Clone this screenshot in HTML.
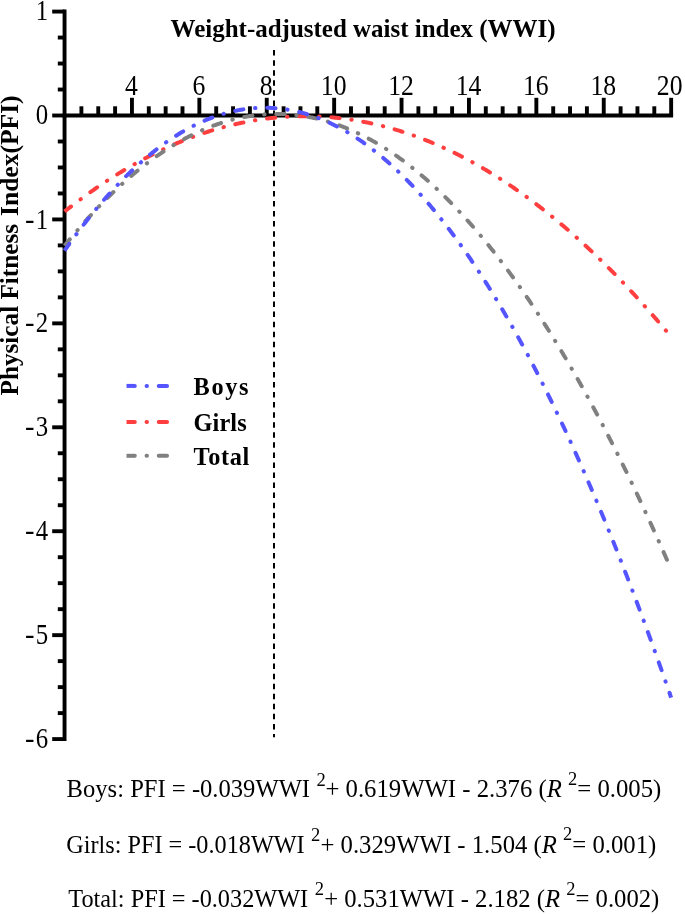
<!DOCTYPE html>
<html><head><meta charset="utf-8"><title>WWI vs PFI</title>
<style>
html,body{margin:0;padding:0;background:#fff}
svg{display:block;will-change:transform}
text{font-family:"Liberation Serif","Times New Roman",serif;fill:#000}
.b{font-weight:bold}
</style></head><body>
<svg width="685" height="914" viewBox="0 0 685 914">
<rect width="685" height="914" fill="#fff"/>

<line x1="274" y1="50.1" x2="274" y2="737.3" stroke="#000" stroke-width="2" stroke-dasharray="5.5 4.557"/>
<g stroke="#000" stroke-width="3.9" fill="none">
<line x1="64.55" y1="9.62" x2="64.55" y2="741.03"/>
<line x1="62.60" y1="115.5" x2="673.10" y2="115.5"/>
<line x1="52.2" y1="11.57" x2="64.55" y2="11.57"/>
<line x1="57.8" y1="37.55" x2="64.55" y2="37.55"/>
<line x1="57.8" y1="63.53" x2="64.55" y2="63.53"/>
<line x1="57.8" y1="89.52" x2="64.55" y2="89.52"/>
<line x1="52.2" y1="115.50" x2="64.55" y2="115.50"/>
<line x1="57.8" y1="141.48" x2="64.55" y2="141.48"/>
<line x1="57.8" y1="167.47" x2="64.55" y2="167.47"/>
<line x1="57.8" y1="193.45" x2="64.55" y2="193.45"/>
<line x1="52.2" y1="219.43" x2="64.55" y2="219.43"/>
<line x1="57.8" y1="245.41" x2="64.55" y2="245.41"/>
<line x1="57.8" y1="271.39" x2="64.55" y2="271.39"/>
<line x1="57.8" y1="297.38" x2="64.55" y2="297.38"/>
<line x1="52.2" y1="323.36" x2="64.55" y2="323.36"/>
<line x1="57.8" y1="349.34" x2="64.55" y2="349.34"/>
<line x1="57.8" y1="375.33" x2="64.55" y2="375.33"/>
<line x1="57.8" y1="401.31" x2="64.55" y2="401.31"/>
<line x1="52.2" y1="427.29" x2="64.55" y2="427.29"/>
<line x1="57.8" y1="453.27" x2="64.55" y2="453.27"/>
<line x1="57.8" y1="479.25" x2="64.55" y2="479.25"/>
<line x1="57.8" y1="505.24" x2="64.55" y2="505.24"/>
<line x1="52.2" y1="531.22" x2="64.55" y2="531.22"/>
<line x1="57.8" y1="557.20" x2="64.55" y2="557.20"/>
<line x1="57.8" y1="583.19" x2="64.55" y2="583.19"/>
<line x1="57.8" y1="609.17" x2="64.55" y2="609.17"/>
<line x1="52.2" y1="635.15" x2="64.55" y2="635.15"/>
<line x1="57.8" y1="661.13" x2="64.55" y2="661.13"/>
<line x1="57.8" y1="687.12" x2="64.55" y2="687.12"/>
<line x1="57.8" y1="713.10" x2="64.55" y2="713.10"/>
<line x1="52.2" y1="739.08" x2="64.55" y2="739.08"/>
<line x1="81.40" y1="106.3" x2="81.40" y2="115.5"/>
<line x1="98.25" y1="106.3" x2="98.25" y2="115.5"/>
<line x1="115.10" y1="106.3" x2="115.10" y2="115.5"/>
<line x1="131.95" y1="97.8" x2="131.95" y2="115.5"/>
<line x1="148.80" y1="106.3" x2="148.80" y2="115.5"/>
<line x1="165.65" y1="106.3" x2="165.65" y2="115.5"/>
<line x1="182.50" y1="106.3" x2="182.50" y2="115.5"/>
<line x1="199.35" y1="97.8" x2="199.35" y2="115.5"/>
<line x1="216.20" y1="106.3" x2="216.20" y2="115.5"/>
<line x1="233.05" y1="106.3" x2="233.05" y2="115.5"/>
<line x1="249.90" y1="106.3" x2="249.90" y2="115.5"/>
<line x1="266.75" y1="97.8" x2="266.75" y2="115.5"/>
<line x1="283.60" y1="106.3" x2="283.60" y2="115.5"/>
<line x1="300.45" y1="106.3" x2="300.45" y2="115.5"/>
<line x1="317.30" y1="106.3" x2="317.30" y2="115.5"/>
<line x1="334.15" y1="97.8" x2="334.15" y2="115.5"/>
<line x1="351.00" y1="106.3" x2="351.00" y2="115.5"/>
<line x1="367.85" y1="106.3" x2="367.85" y2="115.5"/>
<line x1="384.70" y1="106.3" x2="384.70" y2="115.5"/>
<line x1="401.55" y1="97.8" x2="401.55" y2="115.5"/>
<line x1="418.40" y1="106.3" x2="418.40" y2="115.5"/>
<line x1="435.25" y1="106.3" x2="435.25" y2="115.5"/>
<line x1="452.10" y1="106.3" x2="452.10" y2="115.5"/>
<line x1="468.95" y1="97.8" x2="468.95" y2="115.5"/>
<line x1="485.80" y1="106.3" x2="485.80" y2="115.5"/>
<line x1="502.65" y1="106.3" x2="502.65" y2="115.5"/>
<line x1="519.50" y1="106.3" x2="519.50" y2="115.5"/>
<line x1="536.35" y1="97.8" x2="536.35" y2="115.5"/>
<line x1="553.20" y1="106.3" x2="553.20" y2="115.5"/>
<line x1="570.05" y1="106.3" x2="570.05" y2="115.5"/>
<line x1="586.90" y1="106.3" x2="586.90" y2="115.5"/>
<line x1="603.75" y1="97.8" x2="603.75" y2="115.5"/>
<line x1="620.60" y1="106.3" x2="620.60" y2="115.5"/>
<line x1="637.45" y1="106.3" x2="637.45" y2="115.5"/>
<line x1="654.30" y1="106.3" x2="654.30" y2="115.5"/>
<line x1="671.15" y1="97.8" x2="671.15" y2="115.5"/>
</g>
<g font-size="28.5">
<text x="125.04" y="95.4" textLength="12.83" lengthAdjust="spacingAndGlyphs">4</text>
<text x="192.44" y="95.4" textLength="12.83" lengthAdjust="spacingAndGlyphs">6</text>
<text x="259.84" y="95.4" textLength="12.83" lengthAdjust="spacingAndGlyphs">8</text>
<text x="320.83" y="95.4" textLength="25.65" lengthAdjust="spacingAndGlyphs">10</text>
<text x="388.23" y="95.4" textLength="25.65" lengthAdjust="spacingAndGlyphs">12</text>
<text x="455.63" y="95.4" textLength="25.65" lengthAdjust="spacingAndGlyphs">14</text>
<text x="523.02" y="95.4" textLength="25.65" lengthAdjust="spacingAndGlyphs">16</text>
<text x="590.42" y="95.4" textLength="25.65" lengthAdjust="spacingAndGlyphs">18</text>
<text x="656.82" y="95.4" textLength="25.65" lengthAdjust="spacingAndGlyphs">20</text>
<text x="35.70" y="20.47" textLength="12.40" lengthAdjust="spacingAndGlyphs">1</text>
<text x="35.70" y="124.40" textLength="12.40" lengthAdjust="spacingAndGlyphs">0</text>
<text x="35.70" y="228.83" textLength="12.40" lengthAdjust="spacingAndGlyphs">1</text>
<text x="24.9" y="228.83">-</text>
<text x="35.70" y="332.26" textLength="12.40" lengthAdjust="spacingAndGlyphs">2</text>
<text x="24.9" y="332.26">-</text>
<text x="35.70" y="436.19" textLength="12.40" lengthAdjust="spacingAndGlyphs">3</text>
<text x="24.9" y="436.19">-</text>
<text x="35.70" y="540.12" textLength="12.40" lengthAdjust="spacingAndGlyphs">4</text>
<text x="24.9" y="540.12">-</text>
<text x="35.70" y="644.05" textLength="12.40" lengthAdjust="spacingAndGlyphs">5</text>
<text x="24.9" y="644.05">-</text>
<text x="35.70" y="747.98" textLength="12.40" lengthAdjust="spacingAndGlyphs">6</text>
<text x="24.9" y="747.98">-</text>
</g>
<text class="b" x="170.6" y="36.5" font-size="25.5" textLength="385" lengthAdjust="spacingAndGlyphs">Weight-adjusted waist index (WWI)</text>
<g transform="translate(17.9,395.2) rotate(-90)" font-size="25"><text class="b" x="-0.3" y="0" textLength="171.6" lengthAdjust="spacingAndGlyphs">Physical Fitness</text><text class="b" x="179.2" y="0" textLength="120.6" lengthAdjust="spacingAndGlyphs">Index(PFI)</text></g>
<clipPath id="cc"><rect x="64.55" y="0" width="606.80" height="914"/></clipPath><clipPath id="lc"><rect x="126.5" y="370" width="100" height="100"/></clipPath>
<g fill="none" stroke="#ff3f3f" stroke-width="4.0"><path stroke-linecap="round" d="M80.48,199.30 L80.80,199.07 M90.33,192.17 L91.08,191.64 L91.84,191.11 L92.59,190.58 L93.35,190.05 L94.10,189.52 L94.86,189.00 L95.62,188.47 L96.38,187.95 L97.14,187.43 M106.92,180.88 L107.25,180.67 M117.18,174.36 L117.97,173.87 L118.75,173.39 L119.54,172.91 L120.33,172.43 L121.11,171.95 L121.90,171.47 L122.69,170.99 L123.48,170.52 L124.28,170.05 M134.46,164.15 L134.81,163.96 M145.14,158.33 L145.96,157.90 L146.77,157.48 L147.59,157.05 L148.41,156.63 L149.23,156.20 L150.05,155.78 L150.87,155.36 L151.70,154.95 L152.52,154.53 M163.10,149.40 L163.47,149.23 M174.20,144.41 L175.04,144.04 L175.89,143.68 L176.74,143.32 L177.59,142.96 L178.44,142.61 L179.29,142.25 L180.15,141.90 L181.00,141.55 L181.85,141.20 M192.82,136.95 L193.20,136.81 M204.30,132.92 L205.17,132.63 L206.05,132.34 L206.93,132.05 L207.80,131.77 L208.68,131.49 L209.56,131.21 L210.44,130.94 L211.32,130.66 L212.21,130.39 M223.51,127.14 L223.90,127.04 M235.31,124.20 L236.21,123.99 L237.11,123.79 L238.01,123.59 L238.91,123.39 L239.81,123.20 L240.72,123.00 L241.62,122.81 L242.52,122.62 L243.43,122.44 M255.00,120.31 L255.39,120.24 M267.03,118.56 L267.95,118.45 L268.86,118.33 L269.78,118.23 L270.70,118.12 L271.61,118.02 L272.53,117.92 L273.45,117.82 L274.36,117.73 L275.28,117.64 M287.01,116.71 L287.41,116.69 M299.16,116.23 L300.09,116.21 L301.01,116.20 L301.93,116.18 L302.85,116.18 L303.77,116.17 L304.70,116.17 L305.62,116.17 L306.54,116.17 L307.46,116.18 M319.22,116.50 L319.62,116.51 M331.36,117.30 L332.28,117.38 L333.20,117.47 L334.12,117.55 L335.03,117.64 L335.95,117.73 L336.87,117.83 L337.79,117.92 L338.70,118.02 L339.62,118.13 M351.28,119.68 L351.68,119.74 M363.27,121.74 L364.18,121.91 L365.08,122.09 L365.98,122.27 L366.89,122.45 L367.79,122.64 L368.70,122.82 L369.60,123.01 L370.50,123.21 L371.40,123.40 M382.85,126.12 L383.23,126.22 M394.58,129.35 L395.46,129.61 L396.34,129.87 L397.23,130.14 L398.11,130.41 L398.99,130.68 L399.87,130.95 L400.75,131.23 L401.63,131.51 L402.51,131.79 M413.65,135.57 L414.03,135.70 M425.03,139.85 L425.89,140.19 L426.75,140.53 L427.60,140.88 L428.46,141.22 L429.31,141.57 L430.17,141.92 L431.02,142.27 L431.87,142.63 L432.72,142.98 M443.50,147.70 L443.86,147.87 M454.49,152.91 L455.32,153.32 L456.14,153.73 L456.97,154.14 L457.79,154.56 L458.61,154.97 L459.44,155.39 L460.26,155.81 L461.08,156.23 L461.90,156.65 M472.28,162.19 L472.63,162.38 M482.86,168.20 L483.65,168.66 L484.45,169.13 L485.24,169.60 L486.03,170.07 L486.82,170.55 L487.61,171.02 L488.40,171.50 L489.19,171.97 L489.98,172.45 M499.96,178.69 L500.29,178.91 M510.12,185.38 L510.88,185.90 L511.64,186.42 L512.40,186.94 L513.17,187.46 L513.93,187.98 L514.69,188.50 L515.44,189.03 L516.20,189.55 L516.96,190.08 M526.53,196.91 L526.86,197.15 M536.29,204.19 L537.02,204.74 L537.75,205.30 L538.48,205.87 L539.22,206.43 L539.95,206.99 L540.67,207.56 L541.40,208.12 L542.13,208.69 L542.86,209.26 M552.05,216.60 L552.36,216.85 M561.42,224.36 L562.12,224.96 L562.82,225.55 L563.53,226.15 L564.23,226.75 L564.93,227.35 L565.63,227.95 L566.33,228.55 L567.03,229.15 L567.73,229.75 M576.56,237.52 L576.86,237.79 M585.56,245.71 L586.24,246.33 L586.91,246.96 L587.59,247.59 L588.26,248.22 L588.94,248.85 L589.61,249.48 L590.28,250.11 L590.96,250.74 L591.63,251.37 M600.12,259.51 L600.41,259.79 M608.78,268.05 L609.44,268.70 L610.09,269.36 L610.74,270.01 L611.39,270.67 L612.04,271.32 L612.68,271.98 L613.33,272.63 L613.98,273.29 L614.62,273.95 M622.81,282.40 L623.08,282.69 M631.15,291.25 L631.78,291.93 L632.41,292.60 L633.04,293.28 L633.66,293.96 L634.29,294.64 L634.91,295.31 L635.54,295.99 L636.16,296.67 L636.78,297.35 M644.68,306.08 L644.94,306.38 M652.73,315.19 L653.34,315.89 L653.94,316.58 L654.55,317.28 L655.15,317.98 L655.75,318.67 L656.36,319.37 L656.96,320.07 L657.56,320.77 L658.16,321.47 M665.79,330.43 L666.05,330.73"/><path d="M64.55,211.51 L65.27,210.94 L66.00,210.36 L66.72,209.79 L67.45,209.23 L68.17,208.66 L68.90,208.09 L69.63,207.52 L70.36,206.96 L71.09,206.40"/></g><circle cx="71.09" cy="206.40" r="2.0" fill="#ff3f3f"/>
<g fill="none" stroke="#808080" stroke-width="4.0"><path stroke-linecap="round" d="M77.36,230.36 L77.62,230.06 M85.37,221.20 L85.98,220.52 L86.60,219.83 L87.21,219.14 L87.83,218.46 L88.45,217.77 L89.07,217.09 L89.69,216.41 L90.31,215.73 L90.94,215.05 M98.99,206.47 L99.27,206.19 M107.52,197.80 L108.18,197.16 L108.84,196.51 L109.49,195.86 L110.15,195.22 L110.81,194.57 L111.48,193.93 L112.14,193.29 L112.80,192.65 L113.47,192.01 M122.08,184.00 L122.38,183.73 M131.22,175.96 L131.92,175.37 L132.62,174.77 L133.33,174.18 L134.03,173.59 L134.74,172.99 L135.45,172.41 L136.16,171.82 L136.88,171.23 L137.59,170.65 M146.83,163.37 L147.15,163.13 M156.65,156.18 L157.40,155.65 L158.16,155.13 L158.92,154.60 L159.68,154.08 L160.44,153.56 L161.20,153.04 L161.96,152.52 L162.73,152.01 L163.50,151.50 M173.43,145.20 L173.77,144.99 M183.98,139.14 L184.79,138.70 L185.60,138.27 L186.42,137.83 L187.24,137.40 L188.05,136.98 L188.87,136.55 L189.69,136.13 L190.52,135.72 L191.34,135.30 M201.99,130.31 L202.36,130.15 M213.26,125.74 L214.13,125.42 L215.00,125.11 L215.86,124.79 L216.73,124.49 L217.60,124.18 L218.48,123.88 L219.35,123.59 L220.22,123.30 L221.10,123.01 M232.39,119.70 L232.78,119.60 M244.25,117.03 L245.16,116.86 L246.07,116.69 L246.98,116.53 L247.89,116.38 L248.79,116.23 L249.71,116.08 L250.62,115.94 L251.53,115.80 L252.44,115.67 M264.14,114.40 L264.53,114.37 M276.29,113.94 L277.21,113.94 L278.13,113.94 L279.06,113.95 L279.98,113.97 L280.90,113.99 L281.82,114.01 L282.74,114.04 L283.67,114.08 L284.59,114.12 M296.31,115.06 L296.71,115.10 M308.34,116.86 L309.25,117.03 L310.15,117.20 L311.06,117.38 L311.96,117.57 L312.86,117.75 L313.76,117.95 L314.67,118.15 L315.57,118.35 L316.46,118.55 M327.83,121.58 L328.22,121.69 M339.37,125.42 L340.24,125.74 L341.10,126.06 L341.96,126.39 L342.82,126.72 L343.68,127.05 L344.54,127.39 L345.40,127.73 L346.25,128.08 L347.11,128.43 M357.86,133.20 L358.22,133.37 M368.71,138.70 L369.52,139.14 L370.33,139.58 L371.14,140.02 L371.94,140.47 L372.75,140.92 L373.55,141.38 L374.35,141.83 L375.15,142.29 L375.95,142.75 M385.99,148.88 L386.33,149.10 M396.10,155.65 L396.86,156.18 L397.61,156.71 L398.36,157.24 L399.11,157.78 L399.86,158.32 L400.61,158.86 L401.35,159.40 L402.10,159.95 L402.84,160.49 M412.18,167.64 L412.49,167.89 M421.58,175.36 L422.29,175.96 L422.99,176.56 L423.69,177.16 L424.39,177.76 L425.08,178.37 L425.78,178.97 L426.47,179.58 L427.17,180.19 L427.86,180.80 M436.56,188.72 L436.85,188.99 M445.32,197.15 L445.98,197.80 L446.63,198.45 L447.29,199.10 L447.94,199.75 L448.59,200.40 L449.24,201.06 L449.89,201.72 L450.53,202.37 L451.18,203.03 M459.31,211.53 L459.59,211.82 M467.52,220.51 L468.14,221.20 L468.75,221.89 L469.36,222.57 L469.97,223.27 L470.58,223.96 L471.19,224.65 L471.80,225.34 L472.41,226.04 L473.01,226.73 M480.65,235.68 L480.91,235.99 M488.38,245.08 L488.95,245.80 L489.53,246.52 L490.11,247.24 L490.68,247.96 L491.26,248.68 L491.83,249.40 L492.41,250.12 L492.98,250.85 L493.55,251.57 M500.75,260.87 L501.00,261.19 M508.05,270.60 L508.60,271.34 L509.15,272.09 L509.69,272.83 L510.24,273.58 L510.78,274.32 L511.32,275.07 L511.87,275.81 L512.41,276.56 L512.95,277.30 M519.78,286.89 L520.01,287.21 M526.70,296.89 L527.22,297.65 L527.74,298.41 L528.26,299.17 L528.78,299.94 L529.29,300.70 L529.81,301.46 L530.33,302.23 L530.84,302.99 L531.36,303.76 M537.85,313.57 L538.07,313.90 M544.45,323.79 L544.95,324.57 L545.44,325.34 L545.93,326.12 L546.43,326.90 L546.92,327.68 L547.41,328.46 L547.91,329.24 L548.40,330.02 L548.89,330.80 M555.09,340.80 L555.30,341.14 M561.40,351.20 L561.87,351.99 L562.35,352.78 L562.82,353.58 L563.29,354.37 L563.76,355.16 L564.23,355.95 L564.70,356.75 L565.17,357.54 L565.64,358.33 M571.58,368.49 L571.79,368.83 M577.63,379.04 L578.09,379.84 L578.54,380.65 L579.00,381.45 L579.45,382.25 L579.90,383.06 L580.36,383.86 L580.81,384.66 L581.26,385.47 L581.71,386.27 M587.42,396.56 L587.61,396.91 M593.23,407.24 L593.67,408.06 L594.11,408.87 L594.55,409.68 L594.98,410.49 L595.42,411.31 L595.85,412.12 L596.29,412.93 L596.72,413.75 L597.16,414.56 M602.65,424.96 L602.84,425.32 M608.26,435.76 L608.68,436.58 L609.10,437.40 L609.53,438.22 L609.95,439.04 L610.37,439.86 L610.79,440.68 L611.21,441.50 L611.63,442.32 L612.04,443.14 M617.35,453.64 L617.53,454.00 M622.77,464.54 L623.17,465.36 L623.58,466.19 L623.99,467.02 L624.40,467.85 L624.80,468.67 L625.21,469.50 L625.61,470.33 L626.02,471.16 L626.42,471.99 M631.56,482.57 L631.73,482.94 M636.80,493.55 L637.19,494.38 L637.59,495.22 L637.98,496.05 L638.38,496.89 L638.77,497.72 L639.16,498.55 L639.56,499.39 L639.95,500.22 L640.34,501.06 M645.31,511.72 L645.48,512.08 M650.40,522.77 L650.78,523.61 L651.16,524.45 L651.55,525.29 L651.93,526.13 L652.31,526.97 L652.69,527.81 L653.07,528.65 L653.46,529.49 L653.84,530.33 M658.66,541.06 L658.83,541.42 M663.60,552.17 L663.97,553.02 L664.35,553.86 L664.72,554.70 L665.09,555.55 L665.46,556.39 L665.83,557.24 L666.20,558.08 L666.57,558.93 L666.94,559.77"/><path d="M64.55,245.80 L65.13,245.09 L65.71,244.37 L66.29,243.65 L66.87,242.94 L67.45,242.22 L68.04,241.51 L68.62,240.79 L69.21,240.08 L69.79,239.37"/></g><circle cx="69.79" cy="239.37" r="2.0" fill="#808080"/>
<g fill="none" stroke="#5555ff" stroke-width="4.0"><path stroke-linecap="round" d="M76.29,234.31 L76.53,233.99 M83.64,224.62 L84.21,223.89 L84.77,223.17 L85.34,222.44 L85.91,221.71 L86.48,220.99 L87.05,220.26 L87.62,219.54 L88.20,218.82 L88.77,218.10 M96.20,208.97 L96.45,208.66 M104.09,199.71 L104.69,199.02 L105.30,198.32 L105.91,197.63 L106.52,196.94 L107.13,196.25 L107.75,195.56 L108.36,194.88 L108.98,194.19 L109.60,193.51 M117.60,184.88 L117.88,184.59 M126.12,176.20 L126.78,175.55 L127.44,174.91 L128.09,174.26 L128.76,173.62 L129.42,172.98 L130.08,172.34 L130.75,171.70 L131.42,171.07 L132.09,170.43 M140.77,162.49 L141.07,162.23 M150.03,154.61 L150.75,154.02 L151.46,153.44 L152.18,152.87 L152.90,152.29 L153.62,151.72 L154.35,151.14 L155.07,150.58 L155.80,150.01 L156.53,149.44 M166.00,142.46 L166.32,142.23 M176.11,135.71 L176.89,135.22 L177.68,134.73 L178.46,134.24 L179.25,133.76 L180.04,133.28 L180.83,132.81 L181.62,132.34 L182.41,131.87 L183.21,131.41 M193.54,125.78 L193.90,125.60 M204.56,120.63 L205.41,120.27 L206.26,119.91 L207.11,119.56 L207.97,119.21 L208.82,118.87 L209.68,118.53 L210.54,118.20 L211.40,117.87 L212.26,117.54 M223.42,113.82 L223.81,113.71 M235.22,110.85 L236.12,110.66 L237.02,110.48 L237.93,110.31 L238.83,110.14 L239.74,109.97 L240.65,109.81 L241.56,109.66 L242.47,109.52 L243.38,109.37 M255.07,108.09 L255.47,108.07 M267.23,107.79 L268.15,107.81 L269.08,107.84 L270.00,107.87 L270.92,107.91 L271.84,107.96 L272.76,108.01 L273.68,108.06 L274.60,108.13 L275.52,108.20 M287.20,109.59 L287.59,109.66 M299.12,112.02 L300.01,112.25 L300.90,112.48 L301.80,112.71 L302.69,112.95 L303.58,113.19 L304.46,113.44 L305.35,113.70 L306.23,113.96 L307.12,114.22 M318.24,118.04 L318.62,118.19 M329.44,122.78 L330.28,123.17 L331.11,123.56 L331.95,123.96 L332.78,124.36 L333.60,124.77 L334.43,125.18 L335.26,125.59 L336.08,126.01 L336.90,126.43 M347.19,132.12 L347.54,132.33 M357.50,138.58 L358.27,139.09 L359.03,139.60 L359.80,140.12 L360.56,140.64 L361.32,141.16 L362.08,141.69 L362.83,142.22 L363.59,142.75 L364.34,143.28 M373.77,150.31 L374.09,150.56 M383.21,157.99 L383.91,158.58 L384.61,159.18 L385.31,159.78 L386.01,160.39 L386.71,160.99 L387.40,161.60 L388.09,162.21 L388.78,162.82 L389.47,163.43 M398.12,171.41 L398.41,171.68 M406.79,179.94 L407.44,180.60 L408.08,181.26 L408.73,181.92 L409.37,182.58 L410.01,183.24 L410.65,183.91 L411.29,184.57 L411.92,185.24 L412.56,185.91 M420.53,194.56 L420.80,194.86 M428.55,203.71 L429.15,204.41 L429.74,205.12 L430.34,205.82 L430.93,206.52 L431.53,207.23 L432.12,207.94 L432.71,208.64 L433.30,209.35 L433.89,210.06 M441.29,219.21 L441.54,219.52 M448.75,228.82 L449.31,229.55 L449.87,230.29 L450.42,231.02 L450.98,231.76 L451.53,232.50 L452.08,233.23 L452.64,233.97 L453.19,234.71 L453.74,235.45 M460.66,244.97 L460.89,245.29 M467.64,254.92 L468.17,255.68 L468.69,256.44 L469.21,257.20 L469.73,257.97 L470.25,258.73 L470.77,259.49 L471.29,260.25 L471.81,261.02 L472.32,261.78 M478.83,271.58 L479.05,271.92 M485.42,281.81 L485.91,282.59 L486.40,283.37 L486.90,284.15 L487.39,284.93 L487.88,285.71 L488.37,286.49 L488.86,287.27 L489.34,288.06 L489.83,288.84 M495.98,298.87 L496.19,299.21 M502.22,309.31 L502.69,310.10 L503.16,310.90 L503.63,311.69 L504.09,312.49 L504.56,313.29 L505.02,314.08 L505.48,314.88 L505.95,315.68 L506.41,316.48 M512.26,326.69 L512.45,327.03 M518.19,337.30 L518.64,338.11 L519.08,338.92 L519.53,339.73 L519.97,340.54 L520.41,341.34 L520.86,342.15 L521.30,342.96 L521.74,343.77 L522.18,344.58 M527.75,354.94 L527.94,355.30 M533.42,365.71 L533.85,366.52 L534.27,367.34 L534.70,368.16 L535.12,368.98 L535.55,369.80 L535.97,370.62 L536.39,371.44 L536.82,372.26 L537.24,373.08 M542.57,383.56 L542.75,383.92 M548.01,394.45 L548.41,395.27 L548.82,396.10 L549.23,396.93 L549.64,397.76 L550.04,398.58 L550.45,399.41 L550.86,400.24 L551.26,401.07 L551.67,401.90 M556.79,412.49 L556.96,412.85 M562.01,423.48 L562.40,424.31 L562.79,425.15 L563.19,425.98 L563.58,426.82 L563.97,427.65 L564.36,428.49 L564.75,429.32 L565.14,430.16 L565.53,430.99 M570.46,441.67 L570.63,442.04 M575.49,452.75 L575.87,453.59 L576.25,454.43 L576.63,455.27 L577.00,456.11 L577.38,456.96 L577.76,457.80 L578.14,458.64 L578.51,459.48 L578.89,460.32 M583.65,471.08 L583.81,471.45 M588.51,482.24 L588.87,483.08 L589.24,483.93 L589.60,484.78 L589.97,485.62 L590.33,486.47 L590.70,487.32 L591.06,488.16 L591.42,489.01 L591.79,489.86 M596.39,500.69 L596.55,501.06 M601.09,511.91 L601.45,512.76 L601.80,513.61 L602.16,514.46 L602.51,515.31 L602.86,516.16 L603.22,517.02 L603.57,517.87 L603.92,518.72 L604.27,519.57 M608.73,530.46 L608.88,530.83 M613.29,541.74 L613.64,542.59 L613.98,543.45 L614.32,544.31 L614.67,545.16 L615.01,546.02 L615.35,546.87 L615.69,547.73 L616.03,548.59 L616.38,549.44 M620.71,560.38 L620.85,560.76 M625.13,571.71 L625.47,572.57 L625.80,573.43 L626.14,574.29 L626.47,575.15 L626.80,576.01 L627.13,576.87 L627.47,577.73 L627.80,578.59 L628.13,579.45 M632.34,590.44 L632.48,590.81 M636.65,601.82 L636.97,602.68 L637.30,603.54 L637.62,604.41 L637.95,605.27 L638.27,606.13 L638.59,607.00 L638.92,607.86 L639.24,608.72 L639.56,609.59 M643.66,620.62 L643.80,620.99 M647.86,632.03 L648.17,632.90 L648.49,633.77 L648.81,634.63 L649.12,635.50 L649.44,636.37 L649.75,637.23 L650.07,638.10 L650.38,638.97 L650.70,639.83 M654.69,650.90 L654.83,651.28 M658.79,662.36 L659.09,663.22 L659.40,664.09 L659.71,664.96 L660.02,665.83 L660.33,666.70 L660.63,667.57 L660.94,668.44 L661.25,669.31 L661.56,670.18 M665.45,681.28 L665.59,681.66"/><path d="M64.55,250.59 L65.08,249.83 L65.61,249.08 L66.14,248.32 L66.67,247.57 L67.21,246.82 L67.74,246.07 L68.28,245.31 L68.81,244.56 L69.35,243.81 M669.45,692.77 L669.73,693.59 L670.02,694.41 L670.30,695.23 L670.58,696.05 L670.87,696.87 L671.15,697.69"/></g><circle cx="69.35" cy="243.81" r="2.0" fill="#5555ff"/><circle cx="669.45" cy="692.77" r="2.0" fill="#5555ff"/>
<g fill="none" stroke="#5555ff" stroke-width="4.0"><path stroke-linecap="round" d="M146.56,385.90 L146.97,385.90 M158.73,385.90 L159.65,385.90 L160.57,385.90 L161.50,385.90 L162.42,385.90 L163.34,385.90 L164.26,385.90 L165.19,385.90 L166.11,385.90 L167.03,385.90"/><path d="M126.50,385.90 L127.42,385.90 L128.34,385.90 L129.27,385.90 L130.19,385.90 L131.11,385.90 L132.03,385.90 L132.96,385.90 L133.88,385.90 L134.80,385.90"/></g><circle cx="134.80" cy="385.90" r="2.0" fill="#5555ff"/>
<text class="b" x="193.6" y="394.8" font-size="24.3" textLength="54.9" lengthAdjust="spacing">Boys</text>
<g fill="none" stroke="#ff3f3f" stroke-width="4.0"><path stroke-linecap="round" d="M146.56,422.00 L146.97,422.00 M158.73,422.00 L159.65,422.00 L160.57,422.00 L161.50,422.00 L162.42,422.00 L163.34,422.00 L164.26,422.00 L165.19,422.00 L166.11,422.00 L167.03,422.00"/><path d="M126.50,422.00 L127.42,422.00 L128.34,422.00 L129.27,422.00 L130.19,422.00 L131.11,422.00 L132.03,422.00 L132.96,422.00 L133.88,422.00 L134.80,422.00"/></g><circle cx="134.80" cy="422.00" r="2.0" fill="#ff3f3f"/>
<text class="b" x="193.6" y="430.9" font-size="24.3" textLength="53.099999999999994" lengthAdjust="spacing">Girls</text>
<g fill="none" stroke="#808080" stroke-width="4.0"><path stroke-linecap="round" d="M146.56,455.80 L146.97,455.80 M158.73,455.80 L159.65,455.80 L160.57,455.80 L161.50,455.80 L162.42,455.80 L163.34,455.80 L164.26,455.80 L165.19,455.80 L166.11,455.80 L167.03,455.80"/><path d="M126.50,455.80 L127.42,455.80 L128.34,455.80 L129.27,455.80 L130.19,455.80 L131.11,455.80 L132.03,455.80 L132.96,455.80 L133.88,455.80 L134.80,455.80"/></g><circle cx="134.80" cy="455.80" r="2.0" fill="#808080"/>
<text class="b" x="193.6" y="464.7" font-size="24.3" textLength="55.699999999999996" lengthAdjust="spacing">Total</text>
<text x="66.61" y="797.2" font-size="24.8" textLength="243.43" lengthAdjust="spacingAndGlyphs">Boys: PFI = -0.039WWI</text>
<text x="316.38" y="785.6" font-size="18.5">2</text>
<text x="325.45" y="797.2" font-size="24.8" textLength="335.81" lengthAdjust="spacingAndGlyphs">+ 0.619WWI - 2.376 (<tspan font-style="italic">R</tspan> <tspan dy="-12.3" font-size="18.5">2</tspan><tspan dy="12.3">= 0.005)</tspan></text>
<text x="66.28" y="852.6" font-size="24.8" textLength="238.43" lengthAdjust="spacingAndGlyphs">Girls: PFI = -0.018WWI</text>
<text x="311.01" y="841.0" font-size="18.5">2</text>
<text x="320.45" y="852.6" font-size="24.8" textLength="335.89" lengthAdjust="spacingAndGlyphs">+ 0.329WWI - 1.504 (<tspan font-style="italic">R</tspan> <tspan dy="-12.3" font-size="18.5">2</tspan><tspan dy="12.3">= 0.001)</tspan></text>
<text x="68.29" y="906.8" font-size="24.8" textLength="239.92" lengthAdjust="spacingAndGlyphs">Total: PFI = -0.032WWI</text>
<text x="314.74" y="895.1999999999999" font-size="18.5">2</text>
<text x="324.14" y="906.8" font-size="24.8" textLength="335.19" lengthAdjust="spacingAndGlyphs">+ 0.531WWI - 2.182 (<tspan font-style="italic">R</tspan> <tspan dy="-12.3" font-size="18.5">2</tspan><tspan dy="12.3">= 0.002)</tspan></text>
</svg></body></html>
